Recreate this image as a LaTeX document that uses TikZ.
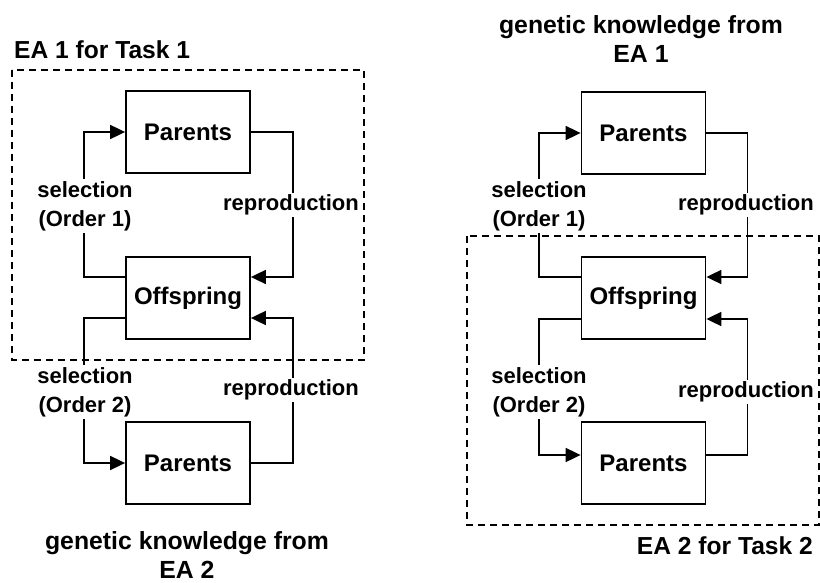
\documentclass[tikz,border=0pt]{standalone}
\usepackage{fontspec}
\setmainfont{Liberation Sans}
\usetikzlibrary{arrows.meta}
\tikzset{
  box/.style={draw, line width=1.8pt, minimum width=124pt, minimum height=82pt,
    inner sep=0pt, font=\fontsize{24}{28}\selectfont\bfseries},
  flow/.style={line width=1.8pt, -{Triangle[length=15pt,width=14pt]}},
  lbl/.style={fill=white, inner sep=2pt, align=center,
    font=\fontsize{22}{29}\selectfont\bfseries},
  head/.style={inner sep=0pt, align=center,
    font=\fontsize{24.8}{29}\selectfont\bfseries},
  title/.style={inner sep=0pt, font=\fontsize{24.6}{27}\selectfont\bfseries},
  group/.style={draw, line width=1.6pt, dash pattern=on 7pt off 5pt}
}
\begin{document}
\begin{tikzpicture}[x=1pt,y=-1pt]
\useasboundingbox (0,0) rectangle (820,583);

% ---------- EA 1 (left) ----------
\draw[group] (12,70) rectangle (364,360);
\node[title, anchor=west] (t1) at (14,50) {EA 1 for Task 1};

\node[box] (P1) at (188,132) {Parents};
\node[box] (O1) at (188,298) {Offspring};
\node[box] (P2) at (188,463) {Parents};

\draw[flow] (O1.west |- 0,277) -- ++(-41,0) |- (P1.west);
\draw[flow] (P1.east) -- ++(42,0) |- (O1.east |- 0,277);
\draw[flow] (O1.west |- 0,318) -- ++(-41,0) |- (P2.west);
\draw[flow] (P2.east) -- ++(42,0) |- (O1.east |- 0,318);

\node[lbl] (s1) at (85,206) {selection\\(Order 1)};
\node[lbl] (r1) at (291,205) {reproduction};
\node[lbl] (s2) at (85,392) {selection\\(Order 2)};
\node[lbl] (r2) at (291,390) {reproduction};

\node[head] (g2) at (187,555) {genetic knowledge from\\EA 2};

% ---------- EA 2 (right) ----------
\draw[group] (467,236) rectangle (819,525);
\node[title, anchor=east] (t2) at (813,546) {EA 2 for Task 2};

\node[head] (g1) at (641,39) {genetic knowledge from\\EA 1};

\node[box] (P3) at (643.5,133) {Parents};
\node[box] (O2) at (643.5,298) {Offspring};
\node[box] (P4) at (643.5,463) {Parents};

\draw[flow] (O2.west |- 0,277) -- ++(-42,0) |- (P3.west);
\draw[flow] (P3.east) -- ++(41,0) |- (O2.east |- 0,277);
\draw[flow] (O2.west |- 0,319) -- ++(-42,0) |- (P4.west |- 0,455);
\draw[flow] (P4.east |- 0,455) -- ++(41,0) |- (O2.east |- 0,319);

\node[lbl] (s3) at (539,206) {selection\\(Order 1)};
\node[lbl] (r3) at (746,205) {reproduction};
\node[lbl] (s4) at (539,392) {selection\\(Order 2)};
\node[lbl] (r4) at (746,392) {reproduction};
\end{tikzpicture}
\end{document}
